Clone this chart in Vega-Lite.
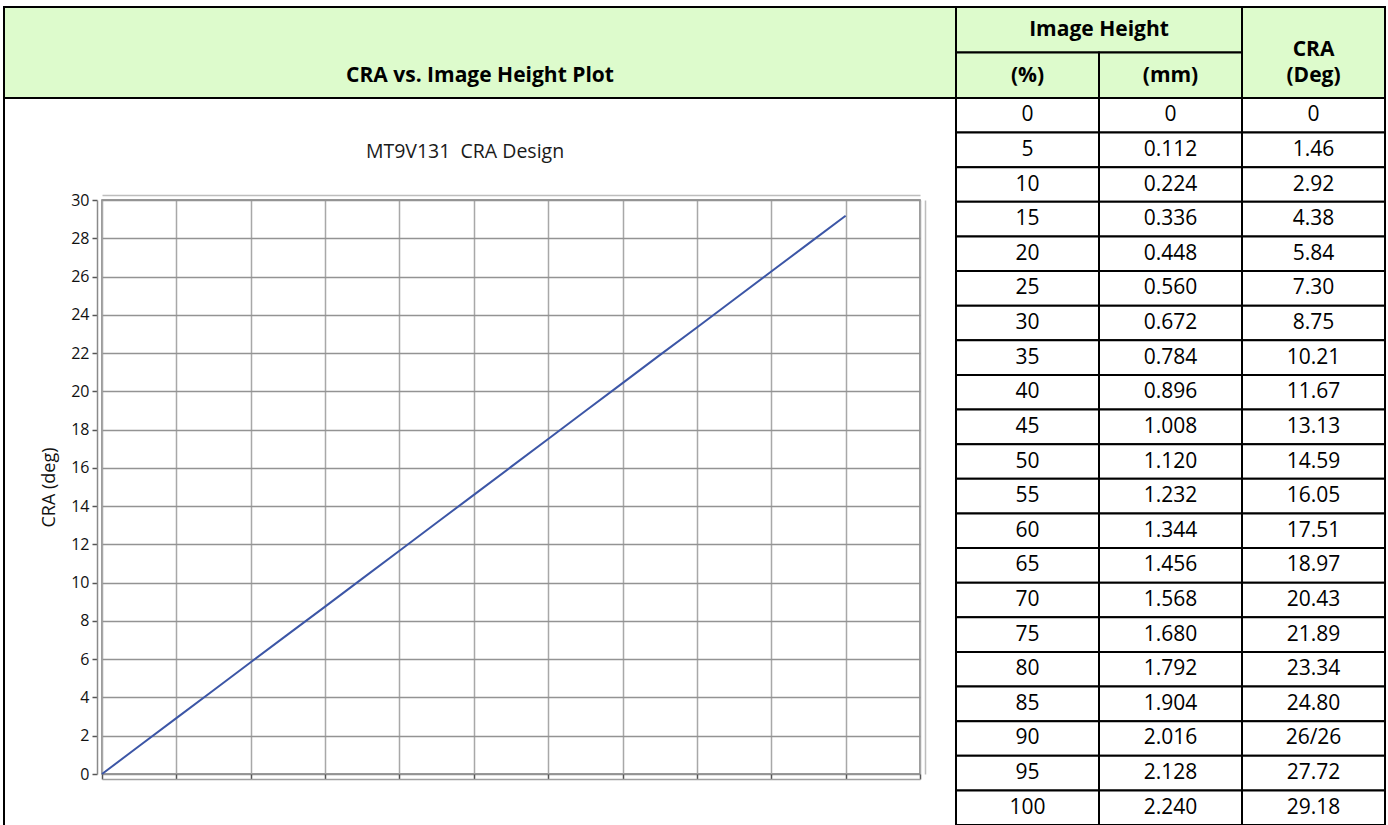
{
  "$schema": "https://vega.github.io/schema/vega-lite/v6.json",
  "width": 818,
  "height": 574,
  "autosize": {"type": "none"},
  "padding": {"left": 102, "top": 200, "right": 468, "bottom": 51},
  "background": "white",
  "config": {
    "view": {"stroke": "#7a7a7a", "strokeWidth": 1.5},
    "font": "Open Sans"
  },
  "title": {
    "text": "MT9V131\u00a0 CRA Design",
    "frame": "group",
    "anchor": "middle",
    "dx": -46,
    "offset": -156,
    "fontSize": 19.5,
    "fontWeight": "normal",
    "color": "#1a1a1a",
    "font": "Open Sans"
  },
  "datasets": {
    "cra": [
      {"pct": 0, "mm": "0", "cra": "0", "cra_deg": 0},
      {"pct": 5, "mm": "0.112", "cra": "1.46", "cra_deg": 1.46},
      {"pct": 10, "mm": "0.224", "cra": "2.92", "cra_deg": 2.92},
      {"pct": 15, "mm": "0.336", "cra": "4.38", "cra_deg": 4.38},
      {"pct": 20, "mm": "0.448", "cra": "5.84", "cra_deg": 5.84},
      {"pct": 25, "mm": "0.560", "cra": "7.30", "cra_deg": 7.30},
      {"pct": 30, "mm": "0.672", "cra": "8.75", "cra_deg": 8.75},
      {"pct": 35, "mm": "0.784", "cra": "10.21", "cra_deg": 10.21},
      {"pct": 40, "mm": "0.896", "cra": "11.67", "cra_deg": 11.67},
      {"pct": 45, "mm": "1.008", "cra": "13.13", "cra_deg": 13.13},
      {"pct": 50, "mm": "1.120", "cra": "14.59", "cra_deg": 14.59},
      {"pct": 55, "mm": "1.232", "cra": "16.05", "cra_deg": 16.05},
      {"pct": 60, "mm": "1.344", "cra": "17.51", "cra_deg": 17.51},
      {"pct": 65, "mm": "1.456", "cra": "18.97", "cra_deg": 18.97},
      {"pct": 70, "mm": "1.568", "cra": "20.43", "cra_deg": 20.43},
      {"pct": 75, "mm": "1.680", "cra": "21.89", "cra_deg": 21.89},
      {"pct": 80, "mm": "1.792", "cra": "23.34", "cra_deg": 23.34},
      {"pct": 85, "mm": "1.904", "cra": "24.80", "cra_deg": 24.80},
      {"pct": 90, "mm": "2.016", "cra": "26/26", "cra_deg": 26.26},
      {"pct": 95, "mm": "2.128", "cra": "27.72", "cra_deg": 27.72},
      {"pct": 100, "mm": "2.240", "cra": "29.18", "cra_deg": 29.18}
    ],
    "header": [
      {"label": "Image Height", "c1": "pct", "c2": "mm", "r1": "r1", "r2": "r1"},
      {"label": "(%)", "c1": "pct", "c2": "pct", "r1": "r2", "r2": "r2"},
      {"label": "(mm)", "c1": "mm", "c2": "mm", "r1": "r2", "r2": "r2"},
      {"label": "CRA", "c1": "cra", "c2": "cra", "r1": "r1", "r2": "r2"},
      {"label": "(Deg)", "c1": "cra", "c2": "cra", "r1": "r2", "r2": "r2"}
    ]
  },
  "layer": [
    {
      "data": {"values": [{"cell": "chart"}]},
      "mark": {"type": "rect", "fill": null, "stroke": "#000000", "strokeWidth": 2},
      "encoding": {
        "x": {"field": "cell", "type": "nominal", "scale": {"range": [-98, 854], "paddingInner": 0, "paddingOuter": 0}, "axis": null},
        "y": {"field": "cell", "type": "nominal", "scale": {"range": [-102, 627], "paddingInner": 0, "paddingOuter": 0}, "axis": null}
      }
    },
    {
      "data": {"values": [{"label": "CRA vs. Image Height Plot"}]},
      "encoding": {
        "x": {"field": "label", "type": "nominal", "scale": {"range": [-98, 854], "paddingInner": 0, "paddingOuter": 0}, "axis": null},
        "y": {"field": "label", "type": "nominal", "scale": {"range": [-193, -102], "paddingInner": 0, "paddingOuter": 0}, "axis": null}
      },
      "layer": [
        {"mark": {"type": "rect", "fill": "#ddfbcc", "stroke": "#000000", "strokeWidth": 2}},
        {"mark": {"type": "text", "font": "Open Sans", "fontSize": 21, "fontWeight": "bold", "color": "#000000", "baseline": "middle", "align": "center", "dy": 23},
         "encoding": {"text": {"field": "label"}}}
      ]
    },
    {
      "data": {"name": "header"},
      "layer": [
        {
          "transform": [{"filter": "datum.label !== '(Deg)'"}],
          "mark": {"type": "rect", "fill": "#ddfbcc", "stroke": "#000000", "strokeWidth": 2},
          "encoding": {
            "x": {"field": "c1", "type": "nominal", "bandPosition": 0, "scale": {"domain": ["pct", "mm", "cra"], "range": [854, 1283], "paddingInner": 0, "paddingOuter": 0}, "axis": null},
            "x2": {"field": "c2", "bandPosition": 1},
            "y": {"field": "r1", "type": "nominal", "bandPosition": 0, "scale": {"domain": ["r1", "r2"], "range": [-193, -102], "paddingInner": 0, "paddingOuter": 0}, "axis": null},
            "y2": {"field": "r2", "bandPosition": 1}
          }
        },
        {
          "transform": [{"filter": "datum.label === '(%)' || datum.label === '(mm)' || datum.label === '(Deg)'"}],
          "mark": {"type": "text", "font": "Open Sans", "fontSize": 21, "fontWeight": "bold", "color": "#000000", "baseline": "middle", "align": "center", "dy": 1},
          "encoding": {
            "x": {"field": "c1", "type": "nominal", "scale": {"domain": ["pct", "mm", "cra"], "range": [854, 1283], "paddingInner": 0, "paddingOuter": 0}, "axis": null},
            "y": {"field": "r1", "type": "nominal", "scale": {"domain": ["r1", "r2"], "range": [-193, -102], "paddingInner": 0, "paddingOuter": 0}, "axis": null},
            "text": {"field": "label"}
          }
        },
        {
          "transform": [{"filter": "datum.label === 'Image Height'"}],
          "mark": {"type": "text", "font": "Open Sans", "fontSize": 21, "fontWeight": "bold", "color": "#000000", "baseline": "middle", "align": "center"},
          "encoding": {
            "x": {"field": "c1", "type": "nominal", "bandPosition": 1, "scale": {"domain": ["pct", "mm", "cra"], "range": [854, 1283], "paddingInner": 0, "paddingOuter": 0}, "axis": null},
            "y": {"field": "r1", "type": "nominal", "scale": {"domain": ["r1", "r2"], "range": [-193, -102], "paddingInner": 0, "paddingOuter": 0}, "axis": null},
            "text": {"field": "label"}
          }
        },
        {
          "transform": [{"filter": "datum.label === 'CRA'"}],
          "mark": {"type": "text", "font": "Open Sans", "fontSize": 21, "fontWeight": "bold", "color": "#000000", "baseline": "middle", "align": "center", "dy": -3},
          "encoding": {
            "x": {"field": "c1", "type": "nominal", "scale": {"domain": ["pct", "mm", "cra"], "range": [854, 1283], "paddingInner": 0, "paddingOuter": 0}, "axis": null},
            "y": {"field": "r1", "type": "nominal", "bandPosition": 1, "scale": {"domain": ["r1", "r2"], "range": [-193, -102], "paddingInner": 0, "paddingOuter": 0}, "axis": null},
            "text": {"field": "label"}
          }
        }
      ]
    },
    {
      "data": {"name": "cra"},
      "transform": [{"fold": ["pct", "mm", "cra"], "as": ["col", "val"]}],
      "encoding": {
        "x": {"field": "col", "type": "nominal", "scale": {"domain": ["pct", "mm", "cra"], "range": [854, 1283], "paddingInner": 0, "paddingOuter": 0}, "axis": null},
        "y": {"field": "pct", "type": "ordinal", "scale": {"domain": [0, 5, 10, 15, 20, 25, 30, 35, 40, 45, 50, 55, 60, 65, 70, 75, 80, 85, 90, 95, 100], "range": [-102, 625], "paddingInner": 0, "paddingOuter": 0}, "axis": null}
      },
      "layer": [
        {"mark": {"type": "rect", "fill": "#ffffff", "stroke": "#000000", "strokeWidth": 2}},
        {"mark": {"type": "text", "font": "Open Sans", "fontSize": 21, "color": "#000000", "baseline": "middle", "align": "center"},
         "encoding": {"text": {"field": "val"}}}
      ]
    },
    {
      "data": {"name": "cra"},
      "layer": [
        {
          "mark": {"type": "line", "color": "#3c56a6", "strokeWidth": 2},
          "encoding": {
            "x": {"field": "pct", "type": "quantitative", "scale": {"domain": [0, 110], "nice": false, "zero": false},
              "axis": {"orient": "bottom", "offset": 5, "values": [0, 10, 20, 30, 40, 50, 60, 70, 80, 90, 100, 110], "labels": false, "tickSize": -5, "tickColor": "#555555", "tickWidth": 1.5, "domainColor": "#a0a0a0", "domainWidth": 1.5, "grid": true, "gridColor": "#a8a8a8", "gridWidth": 1.5, "title": null}},
            "y": {"field": "cra_deg", "type": "quantitative", "scale": {"domain": [0, 30], "nice": false},
              "axis": {"orient": "left", "offset": 5, "values": [0, 2, 4, 6, 8, 10, 12, 14, 16, 18, 20, 22, 24, 26, 28, 30], "tickSize": 5, "tickColor": "#555555", "tickWidth": 1.5, "domainColor": "#8a8a8a", "domainWidth": 1.5, "grid": true, "gridColor": "#939393", "gridWidth": 1.5, "labelFont": "Open Sans", "labelFontSize": 16, "labelColor": "#111111", "labelPadding": 3, "title": "CRA (deg)", "titleFont": "Open Sans", "titleFontSize": 18, "titleFontWeight": "normal", "titleColor": "#111111", "titlePadding": 12}}
          }
        },
        {
          "mark": {"type": "line", "strokeOpacity": 0},
          "encoding": {
            "x": {"field": "pct", "type": "quantitative", "scale": {"domain": [0, 110], "nice": false, "zero": false},
              "axis": {"orient": "top", "offset": 5, "ticks": false, "labels": false, "grid": false, "domainColor": "#bdbdbd", "domainWidth": 1.5, "title": null}},
            "y": {"field": "cra_deg", "type": "quantitative", "scale": {"domain": [0, 30], "nice": false},
              "axis": {"orient": "right", "offset": 5, "ticks": false, "labels": false, "grid": false, "domainColor": "#bdbdbd", "domainWidth": 1.5, "title": null}}
          }
        }
      ],
      "resolve": {"scale": {"x": "independent", "y": "independent"}}
    }
  ],
  "resolve": {
    "scale": {"x": "independent", "y": "independent"},
    "axis": {"x": "independent", "y": "independent"}
  }
}
